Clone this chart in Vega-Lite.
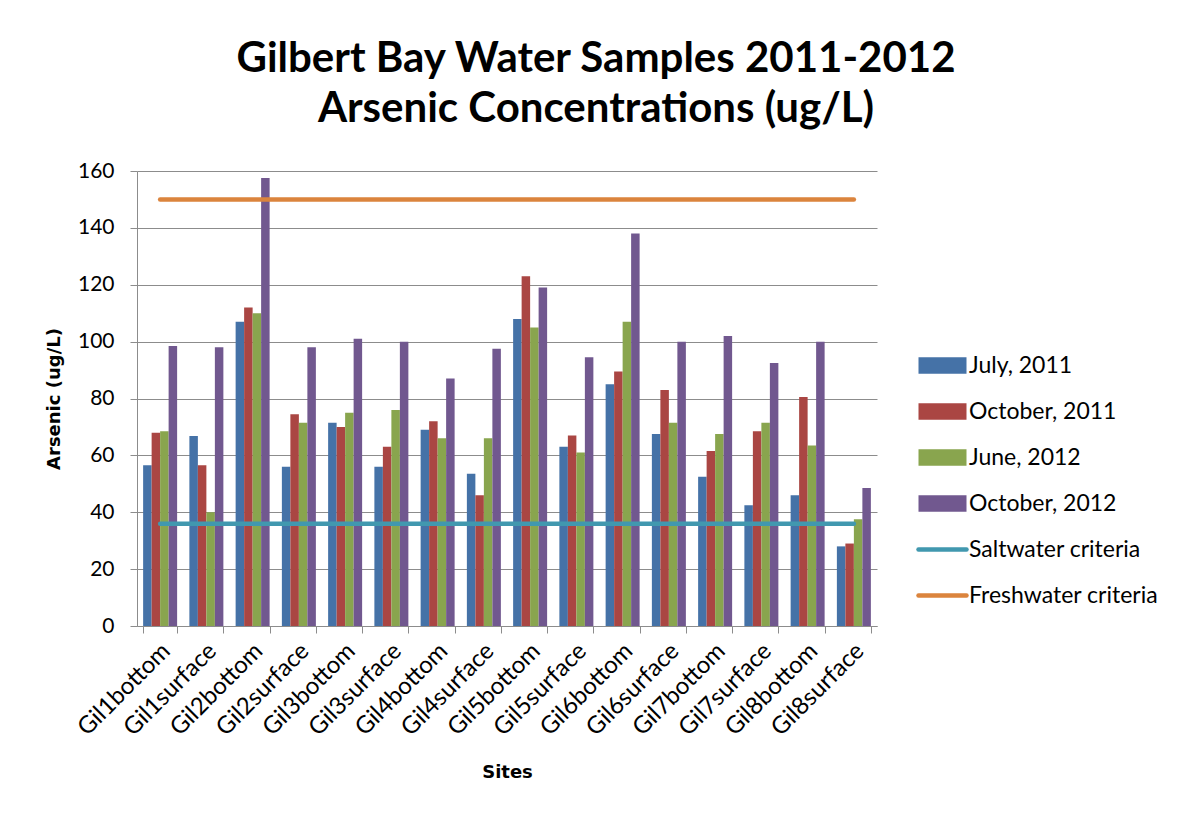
{
  "$schema": "https://vega.github.io/schema/vega-lite/v6.json",
  "width": 740,
  "height": 455,
  "autosize": {"type": "none"},
  "padding": {"left": 137, "top": 171, "right": 306, "bottom": 191},
  "background": "white",
  "title": {
    "text": ["Gilbert Bay Water Samples 2011-2012", "Arsenic Concentrations (ug/L)"],
    "font": "Lato",
    "fontSize": 42,
    "fontWeight": "bold",
    "color": "#000000",
    "anchor": "middle",
    "frame": "group",
    "dx": 89,
    "baseline": "bottom",
    "lineHeight": 50,
    "offset": -13
  },
  "config": {
    "view": {"stroke": null},
    "font": "Lato"
  },
  "data": {
    "values": [
      {"site": "Gil1bottom", "series": "July, 2011", "value": 56.5},
      {"site": "Gil1bottom", "series": "October, 2011", "value": 68},
      {"site": "Gil1bottom", "series": "June, 2012", "value": 68.5},
      {"site": "Gil1bottom", "series": "October, 2012", "value": 98.5},
      {"site": "Gil1surface", "series": "July, 2011", "value": 66.8},
      {"site": "Gil1surface", "series": "October, 2011", "value": 56.5},
      {"site": "Gil1surface", "series": "June, 2012", "value": 40},
      {"site": "Gil1surface", "series": "October, 2012", "value": 98},
      {"site": "Gil2bottom", "series": "July, 2011", "value": 107},
      {"site": "Gil2bottom", "series": "October, 2011", "value": 112},
      {"site": "Gil2bottom", "series": "June, 2012", "value": 110},
      {"site": "Gil2bottom", "series": "October, 2012", "value": 157.5},
      {"site": "Gil2surface", "series": "July, 2011", "value": 56},
      {"site": "Gil2surface", "series": "October, 2011", "value": 74.5},
      {"site": "Gil2surface", "series": "June, 2012", "value": 71.5},
      {"site": "Gil2surface", "series": "October, 2012", "value": 98},
      {"site": "Gil3bottom", "series": "July, 2011", "value": 71.5},
      {"site": "Gil3bottom", "series": "October, 2011", "value": 70},
      {"site": "Gil3bottom", "series": "June, 2012", "value": 75},
      {"site": "Gil3bottom", "series": "October, 2012", "value": 101},
      {"site": "Gil3surface", "series": "July, 2011", "value": 56},
      {"site": "Gil3surface", "series": "October, 2011", "value": 63},
      {"site": "Gil3surface", "series": "June, 2012", "value": 76},
      {"site": "Gil3surface", "series": "October, 2012", "value": 100},
      {"site": "Gil4bottom", "series": "July, 2011", "value": 69},
      {"site": "Gil4bottom", "series": "October, 2011", "value": 72},
      {"site": "Gil4bottom", "series": "June, 2012", "value": 66},
      {"site": "Gil4bottom", "series": "October, 2012", "value": 87},
      {"site": "Gil4surface", "series": "July, 2011", "value": 53.5},
      {"site": "Gil4surface", "series": "October, 2011", "value": 46},
      {"site": "Gil4surface", "series": "June, 2012", "value": 66},
      {"site": "Gil4surface", "series": "October, 2012", "value": 97.5},
      {"site": "Gil5bottom", "series": "July, 2011", "value": 108},
      {"site": "Gil5bottom", "series": "October, 2011", "value": 123},
      {"site": "Gil5bottom", "series": "June, 2012", "value": 105},
      {"site": "Gil5bottom", "series": "October, 2012", "value": 119},
      {"site": "Gil5surface", "series": "July, 2011", "value": 63},
      {"site": "Gil5surface", "series": "October, 2011", "value": 67},
      {"site": "Gil5surface", "series": "June, 2012", "value": 61},
      {"site": "Gil5surface", "series": "October, 2012", "value": 94.5},
      {"site": "Gil6bottom", "series": "July, 2011", "value": 85},
      {"site": "Gil6bottom", "series": "October, 2011", "value": 89.5},
      {"site": "Gil6bottom", "series": "June, 2012", "value": 107},
      {"site": "Gil6bottom", "series": "October, 2012", "value": 138},
      {"site": "Gil6surface", "series": "July, 2011", "value": 67.5},
      {"site": "Gil6surface", "series": "October, 2011", "value": 83},
      {"site": "Gil6surface", "series": "June, 2012", "value": 71.5},
      {"site": "Gil6surface", "series": "October, 2012", "value": 100},
      {"site": "Gil7bottom", "series": "July, 2011", "value": 52.5},
      {"site": "Gil7bottom", "series": "October, 2011", "value": 61.5},
      {"site": "Gil7bottom", "series": "June, 2012", "value": 67.5},
      {"site": "Gil7bottom", "series": "October, 2012", "value": 102},
      {"site": "Gil7surface", "series": "July, 2011", "value": 42.5},
      {"site": "Gil7surface", "series": "October, 2011", "value": 68.5},
      {"site": "Gil7surface", "series": "June, 2012", "value": 71.5},
      {"site": "Gil7surface", "series": "October, 2012", "value": 92.5},
      {"site": "Gil8bottom", "series": "July, 2011", "value": 46},
      {"site": "Gil8bottom", "series": "October, 2011", "value": 80.5},
      {"site": "Gil8bottom", "series": "June, 2012", "value": 63.5},
      {"site": "Gil8bottom", "series": "October, 2012", "value": 100},
      {"site": "Gil8surface", "series": "July, 2011", "value": 28},
      {"site": "Gil8surface", "series": "October, 2011", "value": 29},
      {"site": "Gil8surface", "series": "June, 2012", "value": 37.5},
      {"site": "Gil8surface", "series": "October, 2012", "value": 48.5},
      {"site": "Gil1bottom", "series": "Saltwater criteria", "value": 36},
      {"site": "Gil1surface", "series": "Saltwater criteria", "value": 36},
      {"site": "Gil2bottom", "series": "Saltwater criteria", "value": 36},
      {"site": "Gil2surface", "series": "Saltwater criteria", "value": 36},
      {"site": "Gil3bottom", "series": "Saltwater criteria", "value": 36},
      {"site": "Gil3surface", "series": "Saltwater criteria", "value": 36},
      {"site": "Gil4bottom", "series": "Saltwater criteria", "value": 36},
      {"site": "Gil4surface", "series": "Saltwater criteria", "value": 36},
      {"site": "Gil5bottom", "series": "Saltwater criteria", "value": 36},
      {"site": "Gil5surface", "series": "Saltwater criteria", "value": 36},
      {"site": "Gil6bottom", "series": "Saltwater criteria", "value": 36},
      {"site": "Gil6surface", "series": "Saltwater criteria", "value": 36},
      {"site": "Gil7bottom", "series": "Saltwater criteria", "value": 36},
      {"site": "Gil7surface", "series": "Saltwater criteria", "value": 36},
      {"site": "Gil8bottom", "series": "Saltwater criteria", "value": 36},
      {"site": "Gil8surface", "series": "Saltwater criteria", "value": 36},
      {"site": "Gil1bottom", "series": "Freshwater criteria", "value": 150},
      {"site": "Gil1surface", "series": "Freshwater criteria", "value": 150},
      {"site": "Gil2bottom", "series": "Freshwater criteria", "value": 150},
      {"site": "Gil2surface", "series": "Freshwater criteria", "value": 150},
      {"site": "Gil3bottom", "series": "Freshwater criteria", "value": 150},
      {"site": "Gil3surface", "series": "Freshwater criteria", "value": 150},
      {"site": "Gil4bottom", "series": "Freshwater criteria", "value": 150},
      {"site": "Gil4surface", "series": "Freshwater criteria", "value": 150},
      {"site": "Gil5bottom", "series": "Freshwater criteria", "value": 150},
      {"site": "Gil5surface", "series": "Freshwater criteria", "value": 150},
      {"site": "Gil6bottom", "series": "Freshwater criteria", "value": 150},
      {"site": "Gil6surface", "series": "Freshwater criteria", "value": 150},
      {"site": "Gil7bottom", "series": "Freshwater criteria", "value": 150},
      {"site": "Gil7surface", "series": "Freshwater criteria", "value": 150},
      {"site": "Gil8bottom", "series": "Freshwater criteria", "value": 150},
      {"site": "Gil8surface", "series": "Freshwater criteria", "value": 150}
    ]
  },
  "encoding": {
    "x": {
      "field": "site",
      "type": "nominal",
      "sort": null,
      "scale": {"paddingInner": 0.265, "paddingOuter": 0.1325},
      "axis": {
        "title": "Sites",
        "titleFont": "DejaVu Sans",
        "titleFontSize": 18,
        "titleFontWeight": "bold",
        "titleColor": "#000000",
        "titlePadding": 24,
        "labelAngle": -45,
        "labelAlign": "right",
        "labelBaseline": "middle",
        "labelFont": "Lato",
        "labelFontSize": 24,
        "labelColor": "#000000",
        "labelPadding": 14,
        "labelOffset": 6,
        "tickBand": "extent",
        "tickSize": 7,
        "tickColor": "#8c8c8c",
        "domainColor": "#8c8c8c",
        "grid": false
      }
    },
    "y": {
      "field": "value",
      "type": "quantitative",
      "scale": {"domain": [0, 160], "nice": false},
      "axis": {
        "title": "Arsenic (ug/L)",
        "titleFont": "DejaVu Sans",
        "titleFontSize": 18,
        "titleFontWeight": "bold",
        "titleColor": "#000000",
        "titlePadding": 14,
        "values": [0, 20, 40, 60, 80, 100, 120, 140, 160],
        "labelFont": "Lato",
        "labelFontSize": 21,
        "labelColor": "#000000",
        "labelPadding": 16,
        "tickSize": 7,
        "tickColor": "#8c8c8c",
        "domainColor": "#8c8c8c",
        "grid": true,
        "gridColor": "#8c8c8c",
        "gridWidth": 1
      }
    },
    "color": {
      "field": "series",
      "type": "nominal",
      "scale": {
        "domain": ["July, 2011", "October, 2011", "June, 2012", "October, 2012", "Saltwater criteria", "Freshwater criteria"],
        "range": ["#4572A7", "#AA4643", "#89A54E", "#71588F", "#4198AF", "#DB843D"]
      },
      "legend": {
        "title": null,
        "orient": "none",
        "legendX": 794,
        "legendY": 183,
        "labelFont": "Lato",
        "labelFontSize": 23,
        "labelColor": "#000000",
        "labelOffset": 15,
        "labelLimit": 400,
        "rowPadding": 22,
        "symbolSize": 2304,
        "encode": {
          "symbols": {
            "update": {
              "shape": {"signal": "indexof(['Saltwater criteria','Freshwater criteria'], datum.label) >= 0 ? 'M-1,0H1' : 'M-1,-0.34H1V0.34H-1Z'"},
              "fill": {"signal": "indexof(['Saltwater criteria','Freshwater criteria'], datum.label) >= 0 ? 'transparent' : scale('color', datum.value)"},
              "stroke": {"signal": "scale('color', datum.value)"},
              "strokeWidth": {"signal": "indexof(['Saltwater criteria','Freshwater criteria'], datum.label) >= 0 ? 4.5 : 0"},
              "strokeCap": {"value": "round"},
              "opacity": {"value": 1},
              "size": {"value": 2304}
            }
          }
        }
      }
    }
  },
  "layer": [
    {
      "transform": [{"filter": "indexof(['Saltwater criteria','Freshwater criteria'], datum.series) < 0"}],
      "mark": {"type": "bar", "opacity": 1},
      "encoding": {
        "xOffset": {
          "field": "series",
          "type": "nominal",
          "scale": {"domain": ["July, 2011", "October, 2011", "June, 2012", "October, 2012"]}
        }
      }
    },
    {
      "transform": [{"filter": "indexof(['Saltwater criteria','Freshwater criteria'], datum.series) >= 0"}],
      "mark": {"type": "line", "strokeWidth": 4.5, "strokeCap": "round"},
      "encoding": {}
    }
  ]
}
